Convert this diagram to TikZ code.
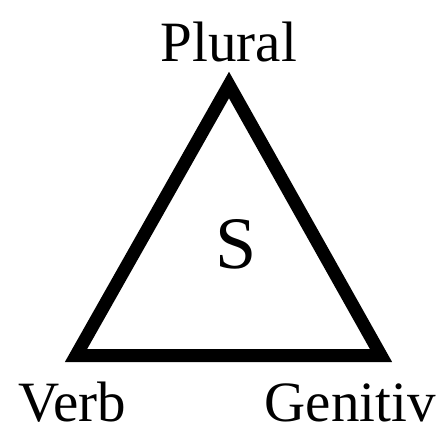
\documentclass[tikz,border=0pt]{standalone}
\usepackage{fontspec}
\setmainfont{Liberation Serif}
\begin{document}
\begin{tikzpicture}[x=1pt,y=-1pt,
  lbl/.style={inner sep=0pt,font=\fontsize{57}{60}\selectfont},
  big/.style={inner sep=0pt,font=\fontsize{74}{80}\selectfont},
  edge/.style={line width=13pt,line join=miter}]
\useasboundingbox (0,0) rectangle (438,433);
\coordinate (A) at (229,85);
\coordinate (B) at (76,355.5);
\coordinate (C) at (381,355.5);
\draw[edge] (A) -- (B) -- (C) -- cycle;
\node[lbl,anchor=base] (plural) at (229,62) {Plural};
\node[lbl,anchor=base west] (verb) at (18,421) {Verb};
\node[lbl,anchor=base east] (gen) at (436,421) {Genitiv};
\node[big,anchor=base] (s) at (236,268) {S};
\end{tikzpicture}
\end{document}
